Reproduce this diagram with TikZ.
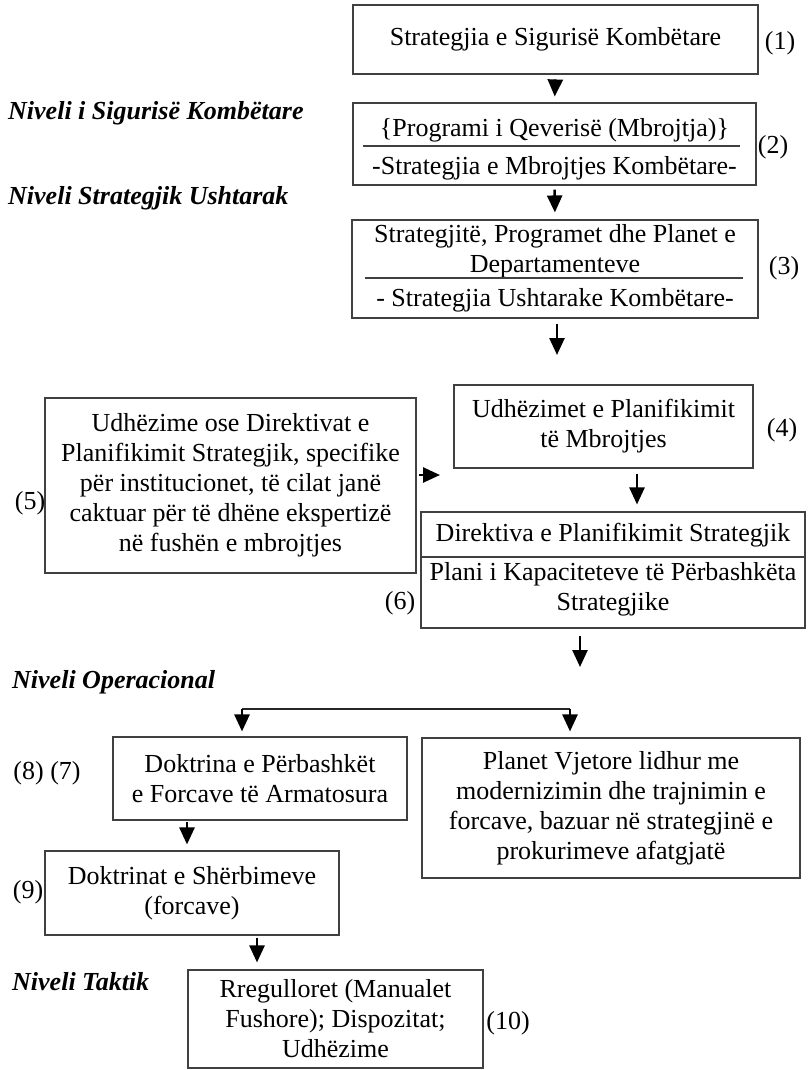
\documentclass[tikz,border=0pt]{standalone}
\usepackage{fontspec}
\setmainfont{Liberation Serif}
\usetikzlibrary{arrows.meta,calc}
\begin{document}
\begin{tikzpicture}[x=1pt,y=-1pt,
  box/.style={draw=black!75,line width=1.1pt,rectangle,inner sep=0pt,align=center,font=\fontsize{26}{30}\selectfont},
  txt/.style={inner sep=0pt,align=center,font=\fontsize{26}{30}\selectfont},
  lvl/.style={inner sep=0pt,anchor=west,font=\fontsize{26}{30}\selectfont\bfseries\itshape},
  sep/.style={draw=black!75,line width=1.1pt},
  arr/.style={line width=2.6pt,-{Triangle[width=15pt,length=17pt]}},
  thin/.style={line width=1.1pt,draw=black!85}]
\useasboundingbox (0,0) rectangle (807,1070);
% boxes
\node[box,minimum width=405pt,minimum height=69pt] (b1) at (555.5,39.5) {Strategjia e Sigurisë Kombëtare};
\node[box,minimum width=403pt,minimum height=82pt] (b2) at (554.5,144) {};
\node[box,minimum width=406pt,minimum height=98pt] (b3) at (555,269) {};
\node[box,minimum width=299pt,minimum height=83pt] (b4) at (603.5,426.5) {Udhëzimet e Planifikimit\\të Mbrojtjes};
\node[box,minimum width=371pt,minimum height=175pt] (b5) at (230.5,485.5) {Udhëzime ose Direktivat e\\Planifikimit Strategjik, specifike\\për institucionet, të cilat janë\\caktuar për të dhëne ekspertizë\\në fushën e mbrojtjes};
\node[box,minimum width=384pt,minimum height=116pt] (b6) at (613,570) {};
\node[box,minimum width=294pt,minimum height=83pt] (b7) at (260,778.5) {Doktrina e Përbashkët\\e Forcave të Armatosura};
\node[box,minimum width=378pt,minimum height=140pt] (b8) at (611,808) {Planet Vjetore lidhur me\\modernizimin dhe trajnimin e\\forcave, bazuar në strategjinë e\\prokurimeve afatgjatë};
\node[box,minimum width=294pt,minimum height=84pt] (b9) at (192,893) {Doktrinat e Shërbimeve\\(forcave)};
\node[box,minimum width=295pt,minimum height=98pt] (b10) at (335.5,1019) {Rregulloret (Manualet\\Fushore); Dispozitat;\\Udhëzime};
% split-box texts
\node[txt] (t2a) at (554.5,130) {\{Programi i Qeverisë (Mbrojtja)\}};
\node[txt] (t2b) at (554.5,168) {-Strategjia e Mbrojtjes Kombëtare-};
\node[txt] (t3a) at (555,251) {Strategjitë, Programet dhe Planet e\\Departamenteve};
\node[txt] (t3b) at (555,300) {- Strategjia Ushtarake Kombëtare-};
\node[txt] (t6a) at (613,535) {Direktiva e Planifikimit Strategjik};
\node[txt] (t6b) at (613,589) {Plani i Kapaciteteve të Përbashkëta\\Strategjike};
% separators
\coordinate (s2l) at (363,146); \coordinate (s2r) at (740,146);
\draw[sep] (s2l) -- (s2r);
\coordinate (s3l) at (365,278); \coordinate (s3r) at (743,278);
\draw[sep] (s3l) -- (s3r);
\coordinate (s6) at (0,557);
\draw[sep] (b6.west |- s6) -- (b6.east |- s6);
% numbers
\node[txt] (n1) at (780,43) {(1)};
\node[txt] (n2) at (773,147) {(2)};
\node[txt] (n3) at (784,268) {(3)};
\node[txt] (n4) at (782,430) {(4)};
\node[txt] (n5) at (30,503) {(5)};
\node[txt] (n6) at (400,603) {(6)};
\node[txt] (n78) at (47,773) {(8) (7)};
\node[txt] (n9) at (28,892) {(9)};
\node[txt] (n10) at (508,1023) {(10)};
% level labels
\node[lvl] (l1) at (8,113) {Niveli i Sigurisë Kombëtare};
\node[lvl] (l2) at (8,198) {Niveli Strategjik Ushtarak};
\node[lvl] (l3) at (12,682) {Niveli Operacional};
\node[lvl] (l4) at (12,982) {Niveli Taktik};
% arrows
\draw[arr,shorten <=5pt,shorten >=6pt] (b1.south) -- (b2.north);
\draw[arr,shorten <=4pt,shorten >=7pt] (b2.south) -- (b3.north);
\coordinate (x34) at (557,355);
\draw[arr,shorten <=5pt] (b3.south -| x34) -- (x34);
\coordinate (t5) at (440,475);
\draw[arr,shorten <=2pt] (b5.east |- t5) -- (t5);
\coordinate (x46) at (637,0);
\draw[arr,shorten <=5pt,shorten >=7pt] (b4.south -| x46) -- (b6.north -| x46);
\coordinate (x6) at (580,667);
\draw[arr,shorten <=7pt] (b6.south -| x6) -- (x6);
\coordinate (sL) at (242,709); \coordinate (sR) at (570,709);
\draw[thin] (sL) -- (sR);
\draw[arr,shorten >=5pt] (sL) -- (b7.north -| sL);
\draw[arr,shorten >=6pt] (sR) -- (b8.north -| sR);
\coordinate (x79) at (187,0);
\draw[arr,shorten <=1pt,shorten >=6pt] (b7.south -| x79) -- (b9.north -| x79);
\coordinate (x910) at (257,0);
\draw[arr,shorten <=2pt,shorten >=7pt] (b9.south -| x910) -- (b10.north -| x910);
\end{tikzpicture}
\end{document}
